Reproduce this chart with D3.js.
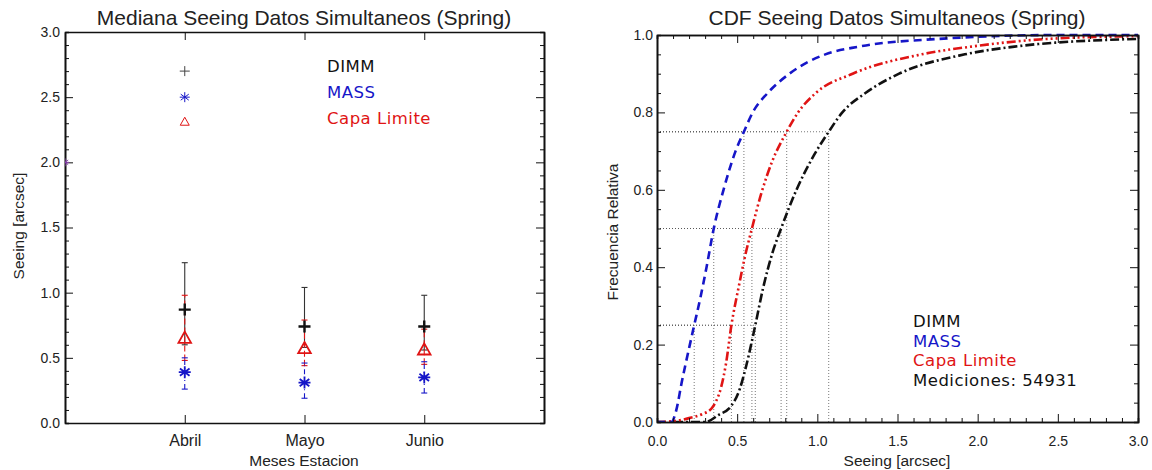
<!DOCTYPE html>
<html>
<head>
<meta charset="utf-8">
<script src="https://cdn.jsdelivr.net/npm/d3@7"></script>
<style>
body { margin: 0; background: #fff; }
svg { display: block; font-family: "Liberation Sans", Arial, sans-serif; }
.tick text { font-size: 14px; fill: #222; }
.months .tick text { font-size: 16px; }
.tick line { stroke: #111; }
.domain { stroke: #111; stroke-width: 1.6; }
.legend { font-family: "DejaVu Sans", sans-serif; font-size: 16.5px; letter-spacing: 0.5px; }
</style>
</head>
<body>
<svg id="chart" width="1152" height="470"></svg>
<script>
// ---- datos panel izquierdo (medianas por mes) ----
var months = ['Abril', 'Mayo', 'Junio'];
var dimmMed = [0.87, 0.74, 0.74];
var dimmLo  = [0.60, 0.58, 0.56];
var dimmHi  = [1.23, 1.04, 0.98];
var massMed = [0.39, 0.31, 0.35];
var massLo  = [0.26, 0.19, 0.23];
var massHi  = [0.50, 0.46, 0.47];
var capaMed = [0.64, 0.56, 0.55];
var capaLo  = [0.48, 0.44, 0.45];
var capaHi  = [0.98, 0.79, 0.72];

// ---- datos panel derecho (CDF) ----
var cdfDimm = [[0, 0], [0.3, 0], [0.39, 0.02], [0.45, 0.035], [0.516, 0.085], [0.557, 0.146],
  [0.613, 0.25], [0.66, 0.343], [0.72, 0.437], [0.774, 0.5], [0.87, 0.6], [0.98, 0.69],
  [1.071, 0.75], [1.156, 0.8], [1.30, 0.85], [1.51, 0.9], [1.92, 0.95], [2.23, 0.97], [3.0, 0.99]];
var cdfMass = [[0, 0], [0.09, 0], [0.12, 0.03], [0.153, 0.1], [0.205, 0.2], [0.232, 0.25],
  [0.27, 0.32], [0.309, 0.4], [0.354, 0.5], [0.415, 0.6], [0.49, 0.7], [0.542, 0.75],
  [0.597, 0.8], [0.69, 0.85], [0.826, 0.9], [1.05, 0.95], [1.26, 0.97], [1.76, 0.99], [2.5, 1.0], [3.0, 1.0]];
var cdfCapa = [[0, 0], [0.1, 0.002], [0.2, 0.01], [0.28, 0.02], [0.34, 0.035], [0.37, 0.055],
  [0.40, 0.09], [0.43, 0.15], [0.464, 0.25], [0.51, 0.35], [0.55, 0.43], [0.592, 0.5],
  [0.65, 0.59], [0.72, 0.675], [0.809, 0.75], [0.88, 0.8], [0.99, 0.85], [1.22, 0.9],
  [1.65, 0.95], [1.96, 0.97], [2.44, 0.99], [3.0, 0.997]];
var quartLevels = [0.25, 0.5, 0.75];
var dimmQ = [0.613, 0.774, 1.071];
var massQ = [0.232, 0.354, 0.542];
var capaQ = [0.464, 0.592, 0.809];
var legendNames = ['DIMM', 'MASS', 'Capa Limite'];
var nMediciones = 54931;

var BLACK = '#111', BLUE = '#1616c8', RED = '#e01414';
var svg = d3.select('#chart');

function minorsOf(lo, hi, step, major) {
  return d3.range(lo, hi + step / 2, step).filter(v => Math.abs(v / major - Math.round(v / major)) > 1e-6);
}

// caja estilo IDL: ejes en los cuatro lados con ticks hacia adentro
function boxAxes(x, y, o) {
  var xl = x.range()[0], xr = x.range()[1], yb = y.range()[0], yt = y.range()[1];
  var g = svg.append('g');
  g.append('g').attr('class', o.xClass || '').attr('transform', `translate(0,${yb})`)
    .call(d3.axisBottom(x).tickValues(o.xMajor).tickSize(-8).tickSizeOuter(0).tickPadding(o.xPad).tickFormat(o.xFmt));
  g.append('g').attr('transform', `translate(0,${yt})`)
    .call(d3.axisTop(x).tickValues(o.xMajor).tickSize(-8).tickSizeOuter(0).tickFormat(''));
  g.append('g').attr('transform', `translate(${xl},0)`)
    .call(d3.axisLeft(y).tickValues(o.yMajor).tickSize(-8).tickSizeOuter(0).tickPadding(o.yPad).tickFormat(d3.format('.1f')));
  g.append('g').attr('transform', `translate(${xr},0)`)
    .call(d3.axisRight(y).tickValues(o.yMajor).tickSize(-8).tickSizeOuter(0).tickFormat(''));
  if (o.xMinor) {
    g.append('g').attr('transform', `translate(0,${yb})`)
      .call(d3.axisBottom(x).tickValues(o.xMinor).tickSize(-4).tickFormat(''));
    g.append('g').attr('transform', `translate(0,${yt})`)
      .call(d3.axisTop(x).tickValues(o.xMinor).tickSize(-4).tickFormat(''));
  }
  g.append('g').attr('transform', `translate(${xl},0)`)
    .call(d3.axisLeft(y).tickValues(o.yMinor).tickSize(-4).tickFormat(''));
  g.append('g').attr('transform', `translate(${xr},0)`)
    .call(d3.axisRight(y).tickValues(o.yMinor).tickSize(-4).tickFormat(''));
  g.selectAll('.tick line').attr('stroke-width', 1);
  return g;
}

function label(txt, x, y, size, rot) {
  var t = svg.append('text').attr('text-anchor', 'middle').attr('font-size', size).attr('fill', '#222')
    .text(txt);
  if (rot) t.attr('transform', `translate(${x},${y}) rotate(-90)`);
  else t.attr('x', x).attr('y', y);
  return t;
}

// ---------- panel izquierdo ----------
var xL = d3.scaleLinear().domain([0, 4]).range([65, 544]);
var yL = d3.scaleLinear().domain([0, 3]).range([423, 32]);
svg.append('clipPath').attr('id', 'clipL').append('rect')
  .attr('x', 65).attr('y', 32).attr('width', 479).attr('height', 391);

boxAxes(xL, yL, {
  xMajor: [1, 2, 3], xFmt: (d, i) => months[i], xClass: 'months', xPad: 12, yPad: 5,
  yMajor: d3.range(0, 3.01, 0.5), yMinor: minorsOf(0, 3, 0.1, 0.5)
});

label('Mediana Seeing Datos Simultaneos (Spring)', 304, 25, 21);
label('Meses Estacion', 304, 466, 15.5);
label('Seeing [arcsec]', 24, 226, 15.5, true);

function plus(g, cx, cy, s, w, col) {
  g.append('path').attr('d', `M${cx - s},${cy}H${cx + s}M${cx},${cy - s}V${cy + s}`)
    .attr('stroke', col).attr('stroke-width', w).attr('fill', 'none');
}
function aster(g, cx, cy, s, w, col) {
  var d = `M${cx},${cy - s}V${cy + s}M${cx - s},${cy}H${cx + s}` +
    `M${cx - s * 0.8},${cy - s * 0.6}L${cx + s * 0.8},${cy + s * 0.6}` +
    `M${cx - s * 0.8},${cy + s * 0.6}L${cx + s * 0.8},${cy - s * 0.6}`;
  g.append('path').attr('d', d).attr('stroke', col).attr('stroke-width', w).attr('fill', 'none');
}
function tri(g, cx, cy, s, w, col) {
  g.append('path').attr('d', `M${cx},${cy - s}L${cx + s * 0.9},${cy + s * 0.6}L${cx - s * 0.9},${cy + s * 0.6}Z`)
    .attr('stroke', col).attr('stroke-width', w).attr('fill', 'none');
}

var gL = svg.append('g').attr('clip-path', 'url(#clipL)');

// marca residual en el eje (2.0)
aster(gL, xL(0), yL(2.0), 4, 1, '#8a3fb0');

function errBars(lo, hi, col, dash) {
  months.forEach((m, i) => {
    var cx = xL(i + 1);
    gL.append('line').attr('x1', cx).attr('x2', cx).attr('y1', yL(lo[i])).attr('y2', yL(hi[i]))
      .attr('stroke', col).attr('stroke-width', 1.1).attr('stroke-dasharray', dash);
    [lo[i], hi[i]].forEach(v => {
      gL.append('line').attr('x1', cx - 3).attr('x2', cx + 3).attr('y1', yL(v)).attr('y2', yL(v))
        .attr('stroke', col).attr('stroke-width', 1.1);
    });
  });
}
errBars(dimmLo, dimmHi, '#333', null);
errBars(capaLo, capaHi, RED, '6,3');
errBars(massLo, massHi, BLUE, '5,3,1,3');

months.forEach((m, i) => {
  var cx = xL(i + 1);
  plus(gL, cx, yL(dimmMed[i]), 6, 2.4, BLACK);
  tri(gL, cx, yL(capaMed[i]) - 1, 7, 1.8, RED);
  aster(gL, cx, yL(massMed[i]), 6, 1.8, BLUE);
});

// leyenda del panel izquierdo (símbolos en coordenadas de datos)
var legY = [2.7, 2.5, 2.3];
plus(gL, xL(1), yL(legY[0]), 5, 1, '#444');
aster(gL, xL(1), yL(legY[1]), 5, 1, BLUE);
tri(gL, xL(1), yL(legY[2]) - 1, 5, 1, RED);
var legCols = [BLACK, BLUE, RED];
legendNames.forEach((n, i) => {
  svg.append('text').attr('class', 'legend').attr('x', 327).attr('y', yL(legY[i]) + 1)
    .attr('fill', legCols[i]).text(n);
});

// ---------- panel derecho ----------
var xR = d3.scaleLinear().domain([0, 3]).range([657, 1138]);
var yR = d3.scaleLinear().domain([0, 1]).range([422, 35]);
svg.append('clipPath').attr('id', 'clipR').append('rect')
  .attr('x', 657).attr('y', 33).attr('width', 481).attr('height', 389);

var gR = svg.append('g').attr('clip-path', 'url(#clipR)');

// líneas punteadas de cuartiles
[dimmQ, massQ, capaQ].forEach(q => {
  q.forEach((v, i) => {
    gR.append('line').attr('x1', xR(0)).attr('x2', xR(v)).attr('y1', yR(quartLevels[i])).attr('y2', yR(quartLevels[i]))
      .attr('stroke', '#555').attr('stroke-width', 0.8).attr('stroke-dasharray', '1,2');
    gR.append('line').attr('x1', xR(v)).attr('x2', xR(v)).attr('y1', yR(0)).attr('y2', yR(quartLevels[i]))
      .attr('stroke', '#555').attr('stroke-width', 0.8).attr('stroke-dasharray', '1,2');
  });
});

var line = d3.line().x(d => xR(d[0])).y(d => yR(d[1])).curve(d3.curveMonotoneX);
gR.append('path').datum(cdfDimm).attr('d', line).attr('fill', 'none')
  .attr('stroke', BLACK).attr('stroke-width', 2.6).attr('stroke-dasharray', '9,3,2,3');
gR.append('path').datum(cdfCapa).attr('d', line).attr('fill', 'none')
  .attr('stroke', RED).attr('stroke-width', 2.6).attr('stroke-dasharray', '9,3,2,3,2,3,2,3');
gR.append('path').datum(cdfMass).attr('d', line).attr('fill', 'none')
  .attr('stroke', BLUE).attr('stroke-width', 2.6).attr('stroke-dasharray', '8,5');

boxAxes(xR, yR, {
  xMajor: d3.range(0, 3.01, 0.5), xMinor: minorsOf(0, 3, 0.1, 0.5), xFmt: d3.format('.1f'), xPad: 14, yPad: 4,
  yMajor: d3.range(0, 1.01, 0.2), yMinor: minorsOf(0, 1, 0.05, 0.2)
});

label('CDF Seeing Datos Simultaneos (Spring)', 897, 25, 21);
label('Seeing [arcsec]', 897, 466, 15.5);
label('Frecuencia Relativa', 618, 232, 15.5, true);

var legR = legendNames.concat(['Mediciones: ' + nMediciones]);
var legRCols = [BLACK, BLUE, RED, BLACK];
legR.forEach((n, i) => {
  svg.append('text').attr('class', 'legend').attr('x', 913).attr('y', 327 + i * 19.7)
    .attr('fill', legRCols[i]).text(n);
});
</script>
</body>
</html>
